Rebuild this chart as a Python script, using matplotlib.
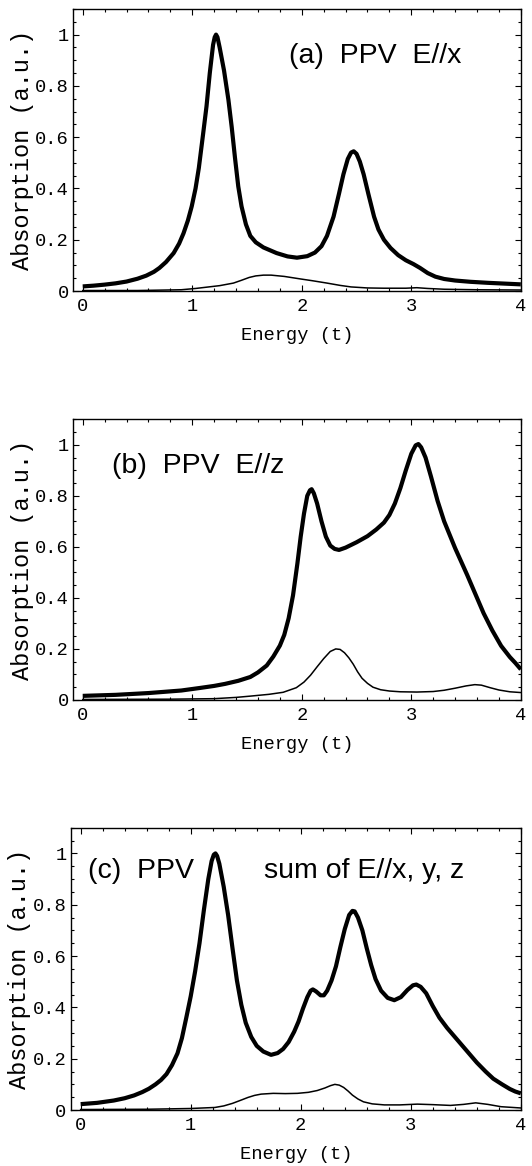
import matplotlib
matplotlib.use("Agg")
import matplotlib.pyplot as plt
from matplotlib.ticker import MultipleLocator, FixedLocator, FixedFormatter

# (a) PPV E//x
energy_a_thick = [0.0, 0.1, 0.2, 0.3, 0.4, 0.5, 0.58, 0.65, 0.7, 0.76, 0.83, 0.88, 0.92, 0.96,
                  0.995, 1.03, 1.06, 1.10, 1.13, 1.16, 1.19, 1.205, 1.217, 1.23, 1.25, 1.29,
                  1.33, 1.36, 1.39, 1.42, 1.45, 1.49, 1.53, 1.58, 1.65, 1.77, 1.87, 1.956,
                  2.05, 2.12, 2.18, 2.23, 2.29, 2.34, 2.38, 2.42, 2.45, 2.474, 2.50, 2.53,
                  2.565, 2.61, 2.66, 2.70, 2.75, 2.81, 2.88, 2.95, 3.02, 3.08, 3.15, 3.22,
                  3.3, 3.4, 3.54, 3.7, 3.85, 4.0]
absorb_a_thick = [0.018, 0.021, 0.025, 0.03, 0.037, 0.048, 0.06, 0.075, 0.09, 0.113, 0.148, 0.185,
                  0.225, 0.275, 0.33, 0.40, 0.48, 0.616, 0.72, 0.85, 0.96, 0.99, 1.0, 0.99,
                  0.95, 0.86, 0.746, 0.64, 0.52, 0.408, 0.33, 0.26, 0.215, 0.19, 0.17, 0.148,
                  0.135, 0.13, 0.136, 0.15, 0.175, 0.215, 0.29, 0.38, 0.455, 0.515, 0.54,
                  0.545, 0.535, 0.505, 0.455, 0.375, 0.29, 0.24, 0.2, 0.168, 0.14, 0.12,
                  0.105, 0.09, 0.07, 0.056, 0.047, 0.041, 0.036, 0.032, 0.029, 0.026]
energy_a_thin = [0.0, 0.5, 0.9, 1.03, 1.15, 1.25, 1.376, 1.45, 1.52, 1.58, 1.65, 1.72, 1.84,
                 1.99, 2.1, 2.23, 2.35, 2.45, 2.6, 2.75, 2.95, 3.05, 3.15, 3.3, 3.6, 4.0]
absorb_a_thin = [0.002, 0.002, 0.005, 0.01, 0.016, 0.021, 0.031, 0.042, 0.053, 0.059, 0.062,
                 0.062, 0.057, 0.047, 0.04, 0.031, 0.022, 0.016, 0.012, 0.011, 0.011, 0.013,
                 0.01, 0.007, 0.005, 0.004]

# (b) PPV E//z
energy_b_thick = [0.0, 0.3, 0.6, 0.9, 1.07, 1.2, 1.3, 1.42, 1.53, 1.6, 1.68, 1.74, 1.80, 1.84,
                  1.88, 1.92, 1.96, 1.99, 2.02, 2.05, 2.075, 2.09, 2.11, 2.14, 2.18, 2.22,
                  2.26, 2.30, 2.34, 2.40, 2.50, 2.60, 2.68, 2.75, 2.80, 2.85, 2.90, 2.95,
                  3.00, 3.04, 3.065, 3.09, 3.13, 3.18, 3.24, 3.30, 3.40, 3.51, 3.58, 3.66,
                  3.74, 3.82, 3.9, 3.95, 4.0]
absorb_b_thick = [0.016, 0.02, 0.027, 0.037, 0.047, 0.055, 0.063, 0.075, 0.09, 0.108, 0.135,
                  0.17, 0.213, 0.255, 0.32, 0.41, 0.535, 0.64, 0.73, 0.80, 0.822, 0.826, 0.81,
                  0.77, 0.70, 0.64, 0.605, 0.592, 0.588, 0.597, 0.618, 0.642, 0.668, 0.695,
                  0.725, 0.77, 0.83, 0.90, 0.965, 0.998, 1.003, 0.99, 0.95, 0.875, 0.78, 0.70,
                  0.595, 0.49, 0.42, 0.34, 0.272, 0.212, 0.168, 0.145, 0.12]
energy_b_thin = [0.0, 0.8, 1.2, 1.4, 1.53, 1.7, 1.83, 1.95, 2.02, 2.08, 2.14, 2.2, 2.26, 2.31,
                 2.35, 2.39, 2.43, 2.47, 2.51, 2.55, 2.60, 2.65, 2.72, 2.8, 2.9, 3.05, 3.2,
                 3.3, 3.4, 3.5, 3.58, 3.64, 3.72, 3.8, 3.9, 4.0]
absorb_b_thin = [0.002, 0.003, 0.005, 0.01, 0.015, 0.022, 0.03, 0.048, 0.07, 0.097, 0.13, 0.162,
                 0.19, 0.2, 0.198, 0.185, 0.165, 0.14, 0.11, 0.085, 0.065, 0.05, 0.04, 0.035,
                 0.032, 0.031, 0.033, 0.038, 0.046, 0.055, 0.06, 0.058, 0.048, 0.039, 0.032,
                 0.029]

# (c) PPV sum of E//x, y, z
energy_c_thick = [0.0, 0.15, 0.3, 0.4, 0.486, 0.56, 0.62, 0.68, 0.73, 0.78, 0.83, 0.88, 0.92,
                  0.96, 1.0, 1.04, 1.08, 1.12, 1.16, 1.19, 1.21, 1.225, 1.24, 1.26, 1.30, 1.34,
                  1.38, 1.42, 1.46, 1.50, 1.55, 1.60, 1.66, 1.73, 1.79, 1.84, 1.89, 1.94,
                  1.98, 2.02, 2.06, 2.09, 2.11, 2.14, 2.18, 2.21, 2.24, 2.28, 2.32, 2.36,
                  2.40, 2.44, 2.47, 2.49, 2.52, 2.56, 2.60, 2.64, 2.68, 2.73, 2.79, 2.85,
                  2.91, 2.97, 3.02, 3.05, 3.09, 3.14, 3.20, 3.26, 3.33, 3.40, 3.47, 3.53,
                  3.60, 3.68, 3.75, 3.83, 3.9, 3.95, 4.0]
absorb_c_thick = [0.023, 0.028, 0.037, 0.046, 0.057, 0.07, 0.083, 0.1, 0.117, 0.14, 0.175,
                  0.221, 0.28, 0.36, 0.443, 0.54, 0.65, 0.78, 0.9, 0.97, 0.995, 1.0, 0.99,
                  0.96, 0.87, 0.76, 0.63, 0.505, 0.41, 0.34, 0.285, 0.25, 0.228, 0.215, 0.222,
                  0.238, 0.265, 0.305, 0.345, 0.395, 0.44, 0.465, 0.47, 0.462, 0.447, 0.447,
                  0.465, 0.505, 0.56, 0.635, 0.705, 0.76, 0.776, 0.774, 0.75, 0.7, 0.63,
                  0.565, 0.51, 0.465, 0.437, 0.428, 0.44, 0.468, 0.486, 0.489, 0.48, 0.455,
                  0.405, 0.36, 0.32, 0.285, 0.25, 0.22, 0.185, 0.15, 0.122, 0.1, 0.082,
                  0.072, 0.065]
energy_c_thin = [0.0, 0.6, 1.0, 1.22, 1.3, 1.38, 1.46, 1.52, 1.58, 1.64, 1.75, 1.86, 1.97,
                 2.07, 2.15, 2.22, 2.27, 2.31, 2.35, 2.39, 2.43, 2.47, 2.52, 2.57, 2.65, 2.76,
                 2.9, 3.06, 3.2, 3.36, 3.48, 3.59, 3.7, 3.82, 4.0]
absorb_c_thin = [0.002, 0.003, 0.006, 0.01, 0.016, 0.026, 0.039, 0.049, 0.057, 0.062, 0.065,
                 0.064, 0.065, 0.069, 0.076, 0.086, 0.095, 0.1, 0.097, 0.088, 0.074, 0.058,
                 0.043, 0.032, 0.024, 0.02, 0.02, 0.023, 0.021, 0.018, 0.022, 0.028, 0.022,
                 0.013, 0.008]

ytick_vals = [0, 0.2, 0.4, 0.6, 0.8, 1]
ytick_text = ["0", "0.2", "0.4", "0.6", "0.8", "1"]
xtick_vals = [0, 1, 2, 3, 4]

panels = [
    (energy_a_thick, absorb_a_thick, energy_a_thin, absorb_a_thin,
     [("(a)  PPV  E//x", 1.88, 0.89)], [0.137, 0.7504, 0.842, 0.2419]),
    (energy_b_thick, absorb_b_thick, energy_b_thin, absorb_b_thin,
     [("(b)  PPV  E//z", 0.27, 0.889)], [0.137, 0.3997, 0.842, 0.2407]),
    (energy_c_thick, absorb_c_thick, energy_c_thin, absorb_c_thin,
     [("(c)  PPV", 0.067, 0.905), ("sum of E//x, y, z", 1.67, 0.905)],
     [0.133, 0.0480, 0.846, 0.2421]),
]

mono = "Liberation Mono"
sans = "Liberation Sans"

fig = plt.figure(figsize=(5.32, 11.66), dpi=100)

for ex, ey, tx, ty, labels, rect in panels:
    ax = fig.add_axes(rect)
    ax.plot(ex, ey, color="black", lw=3.0, solid_joinstyle="round", solid_capstyle="butt")
    ax.plot(tx, ty, color="black", lw=1.1, solid_joinstyle="round")
    ax.set_xlim(-0.09, 4.0)
    ax.set_ylim(0, 1.1)

    ax.xaxis.set_major_locator(FixedLocator(xtick_vals))
    ax.xaxis.set_minor_locator(MultipleLocator(0.2))
    ax.yaxis.set_major_locator(FixedLocator(ytick_vals))
    ax.yaxis.set_major_formatter(FixedFormatter(ytick_text))
    ax.yaxis.set_minor_locator(MultipleLocator(0.05))
    ax.tick_params(which="both", direction="in", top=True, right=True, width=0.8)
    ax.tick_params(which="major", length=4)
    ax.tick_params(which="minor", length=2)
    ax.tick_params(axis="x", which="major", pad=5)
    ax.tick_params(axis="y", which="major", pad=3)
    for lab in ax.get_xticklabels() + ax.get_yticklabels():
        lab.set_fontfamily(mono)
        lab.set_fontsize(13.5)
    for sp in ax.spines.values():
        sp.set_linewidth(1.0)

    ax.set_xlabel("Energy (t)", fontfamily=mono, fontsize=13.5, labelpad=9)
    ax.set_ylabel("Absorption (a.u.)", fontfamily=mono, fontsize=17, labelpad=1)

    for text, x, y in labels:
        ax.text(x, y, text, fontfamily=sans, fontsize=20.5, ha="left", va="baseline")

fig.savefig("out.png", dpi=100)
